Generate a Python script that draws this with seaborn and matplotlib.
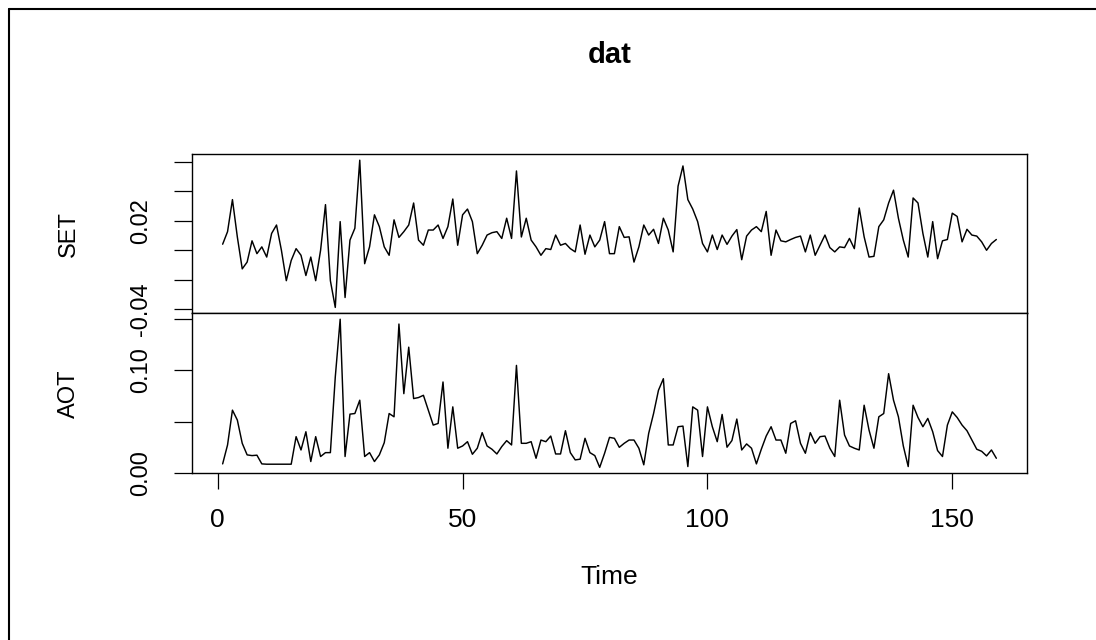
import numpy as np
import matplotlib
matplotlib.use("Agg")
import matplotlib.pyplot as plt
import seaborn as sns
from matplotlib.lines import Line2D

# Monthly series, observations 1..159
set_returns = [
    0.0041, 0.0126, 0.0343, 0.0090, -0.0126, -0.0080, 0.0064, -0.0023, 0.0023, -0.0046,
    0.0114, 0.0171, 0.0000, -0.0206, -0.0069, 0.0011, -0.0034, -0.0171, -0.0046, -0.0206,
    0.0000, 0.0309, -0.0206, -0.0387, 0.0194, -0.0320, 0.0069, 0.0149, 0.0610, -0.0091,
    0.0023, 0.0240, 0.0160, 0.0023, -0.0034, 0.0206, 0.0087, 0.0126, 0.0171, 0.0320,
    0.0069, 0.0034, 0.0137, 0.0137, 0.0171, 0.0080, 0.0160, 0.0347, 0.0034, 0.0240,
    0.0279, 0.0194, -0.0023, 0.0034, 0.0103, 0.0119, 0.0126, 0.0080, 0.0217, 0.0080,
    0.0537, 0.0090, 0.0217, 0.0069, 0.0023, -0.0034, 0.0011, 0.0005, 0.0103, 0.0034,
    0.0046, 0.0011, -0.0011, 0.0171, -0.0027, 0.0103, 0.0023, 0.0069, 0.0194, -0.0023,
    -0.0023, 0.0160, 0.0087, 0.0091, -0.0080, 0.0023, 0.0171, 0.0103, 0.0142, 0.0046,
    0.0217, 0.0137, -0.0011, 0.0434, 0.0571, 0.0343, 0.0279, 0.0194, 0.0046, -0.0011,
    0.0103, 0.0005, 0.0103, 0.0040, 0.0096, 0.0140, -0.0064, 0.0096, 0.0137, 0.0160,
    0.0126, 0.0263, -0.0034, 0.0137, 0.0064, 0.0057, 0.0073, 0.0087, 0.0096, -0.0011,
    0.0103, -0.0034, 0.0034, 0.0103, 0.0018, -0.0011, 0.0023, 0.0018, 0.0080, 0.0011,
    0.0286, 0.0091, -0.0046, -0.0041, 0.0160, 0.0206, 0.0320, 0.0407, 0.0217, 0.0069,
    -0.0046, 0.0354, 0.0320, 0.0114, -0.0046, 0.0194, -0.0057, 0.0064, 0.0073, 0.0251,
    0.0229, 0.0057, 0.0142, 0.0103, 0.0096, 0.0057, 0.0000, 0.0046, 0.0073,
]

aot_values = [
    0.0087, 0.0272, 0.0612, 0.0515, 0.0288, 0.0175, 0.0168, 0.0172, 0.0087, 0.0084,
    0.0084, 0.0084, 0.0084, 0.0084, 0.0084, 0.0353, 0.0223, 0.0401, 0.0110, 0.0353,
    0.0159, 0.0197, 0.0197, 0.0935, 0.1500, 0.0159, 0.0573, 0.0579, 0.0709, 0.0159,
    0.0197, 0.0110, 0.0175, 0.0294, 0.0579, 0.0547, 0.1453, 0.0773, 0.1227, 0.0725,
    0.0735, 0.0757, 0.0612, 0.0466, 0.0482, 0.0887, 0.0240, 0.0644, 0.0240, 0.0262,
    0.0304, 0.0181, 0.0240, 0.0392, 0.0262, 0.0230, 0.0184, 0.0256, 0.0314, 0.0272,
    0.1049, 0.0288, 0.0288, 0.0304, 0.0142, 0.0320, 0.0304, 0.0359, 0.0184, 0.0184,
    0.0411, 0.0197, 0.0126, 0.0133, 0.0337, 0.0197, 0.0168, 0.0053, 0.0191, 0.0346,
    0.0337, 0.0249, 0.0288, 0.0320, 0.0320, 0.0240, 0.0078, 0.0385, 0.0579, 0.0806,
    0.0919, 0.0272, 0.0272, 0.0450, 0.0456, 0.0061, 0.0644, 0.0612, 0.0159, 0.0644,
    0.0450, 0.0304, 0.0570, 0.0250, 0.0315, 0.0525, 0.0223, 0.0282, 0.0240, 0.0087,
    0.0230, 0.0359, 0.0450, 0.0320, 0.0320, 0.0191, 0.0482, 0.0508, 0.0288, 0.0191,
    0.0392, 0.0288, 0.0353, 0.0359, 0.0240, 0.0159, 0.0709, 0.0369, 0.0262, 0.0240,
    0.0223, 0.0660, 0.0417, 0.0240, 0.0547, 0.0579, 0.0968, 0.0709, 0.0547, 0.0262,
    0.0061, 0.0660, 0.0540, 0.0450, 0.0531, 0.0401, 0.0217, 0.0159, 0.0466, 0.0595,
    0.0540, 0.0466, 0.0411, 0.0320, 0.0230, 0.0210, 0.0165, 0.0223, 0.0142,
]

time = np.arange(1, len(set_returns) + 1)

set_ticks = [-0.04, -0.02, 0.0, 0.02, 0.04, 0.06]
set_tick_labels = ["-0.04", "", "", "0.02", "", ""]
aot_ticks = [0.0, 0.05, 0.10, 0.15]
aot_tick_labels = ["0.00", "", "0.10", ""]
time_ticks = [0, 50, 100, 150]
time_tick_labels = ["0", "50", "100", "150"]

sns.set_style("white")
plt.rcParams["font.family"] = ["Liberation Sans", "DejaVu Sans"]
plt.rcParams["text.color"] = "black"
plt.rcParams["axes.labelcolor"] = "black"

W, H = 1096, 640
fig = plt.figure(figsize=(W / 100, H / 100), dpi=100)
fig.patch.set_facecolor("white")

left, right = 191.7 / W, 1027.3 / W
y_top, y_mid, y_bot = 154.3, 313.3, 473.3
ax_top = fig.add_axes([left, 1 - y_mid / H, right - left, (y_mid - y_top) / H])
ax_bot = fig.add_axes([left, 1 - y_bot / H, right - left, (y_bot - y_mid) / H],
                      sharex=ax_top)

line_kw = dict(color="black", linewidth=1.05, estimator=None)
sns.lineplot(x=time, y=set_returns, ax=ax_top, **line_kw)
sns.lineplot(x=time, y=aot_values, ax=ax_bot, **line_kw)

for ax in (ax_top, ax_bot):
    ax.margins(x=0.04, y=0.04)
    for sp in ax.spines.values():
        sp.set_visible(True)
        sp.set_color("black")
        sp.set_linewidth(1.0)
    ax.set_xlabel("")
    ax.set_ylabel("")
    ax.tick_params(axis="y", left=True, direction="out", length=13, width=0.9,
                   pad=15.5, labelsize=17, colors="black")

ax_top.set_yticks(set_ticks)
ax_top.set_yticklabels(set_tick_labels)
ax_bot.set_yticks(aot_ticks)
ax_bot.set_yticklabels(aot_tick_labels)

ax_top.tick_params(axis="x", bottom=False, labelbottom=False)
ax_bot.set_xticks(time_ticks)
ax_bot.set_xticklabels(time_tick_labels)
ax_bot.tick_params(axis="x", bottom=True, direction="out", length=11.5, width=0.9,
                   pad=13.5, labelsize=19, colors="black")

for ax in (ax_top, ax_bot):
    for lbl in ax.get_yticklabels():
        lbl.set_rotation(90)
        lbl.set_va("center")
        lbl.set_ha("right")

# Panel names on the left
ax_top.set_ylabel("SET", fontsize=17, va="center", rotation=90, color="black")
ax_top.yaxis.set_label_coords((69.0 - 191.7) / (1027.3 - 191.7), 0.5)
ax_bot.set_ylabel("AOT", fontsize=17, va="center", rotation=90, color="black")
ax_bot.yaxis.set_label_coords((69.0 - 191.7) / (1027.3 - 191.7), 0.5)

ax_bot.set_xlabel("Time", fontsize=19, va="baseline", color="black")
ax_bot.xaxis.set_label_coords(0.5, (y_bot - 584.0) / (y_bot - y_mid))

ax_top.set_title("dat", fontsize=21, fontweight="bold", pad=0, color="black",
                 y=1 + (y_top - 63.0) / (y_mid - y_top))

# Page frame along the left and top edges
fx = 8.5 / W
fy = 1 - 9.0 / H
fig.add_artist(Line2D([fx, fx], [0, fy], transform=fig.transFigure,
                      color="black", linewidth=1.5))
fig.add_artist(Line2D([fx, 1], [fy, fy], transform=fig.transFigure,
                      color="black", linewidth=1.5))

fig.savefig("out.png", dpi=100, facecolor="white")
